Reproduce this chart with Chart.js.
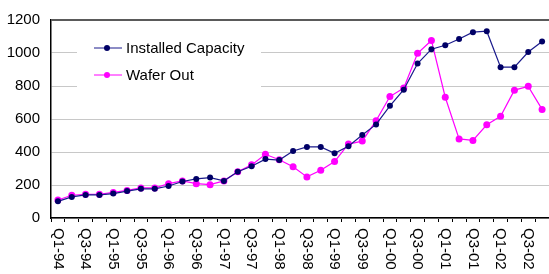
<!DOCTYPE html>
<html>
<head>
<meta charset="utf-8">
<script src="https://cdn.jsdelivr.net/npm/chart.js@4/dist/chart.umd.min.js"></script>
<style>
  html, body { margin: 0; padding: 0; background: #fff; overflow: hidden; }
  #wrap { position: relative; width: 553px; height: 274px; }
</style>
</head>
<body>
<div id="wrap"><canvas id="chart"></canvas></div>
<script>
// quarters, Q1-94 .. Q4-02
const quarters = [];
for (let y = 94; y <= 102; y++) {
    for (let q = 1; q <= 4; q++) quarters.push('Q' + q + '-' + String(y % 100).padStart(2, '0'));
}

const installedCapacity = [
    101, 128, 140, 140, 148, 163, 177, 177,
    194, 221, 237, 245, 225, 280, 314, 357,
    351, 406, 431, 431, 392, 435, 503, 567,
    680, 778, 936, 1023, 1047, 1085, 1126, 1132,
    914, 914, 1006, 1070
];
const waferOut = [
    109, 138, 144, 144, 155, 167, 182, 182,
    208, 225, 208, 202, 225, 280, 322, 386,
    353, 311, 249, 289, 342, 448, 466, 590,
    736, 788, 998, 1076, 732, 479, 470, 565,
    616, 775, 798, 658
];
const yTicks = [0, 200, 400, 600, 800, 1000, 1200];

// extra drawing: top border, rotated x labels, legend box inside the plot
const extras = {
    id: 'extras',
    beforeDatasetsDraw(chart) {
        const ctx = chart.ctx;
        const area = chart.chartArea;
        // legend background
        ctx.save();
        ctx.fillStyle = '#fff';
        ctx.fillRect(77, 30, 184, 60);
        const items = chart.data.datasets;
        items.forEach((ds, i) => {
            const y = 48 + i * 27;
            ctx.strokeStyle = ds.borderColor;
            ctx.lineWidth = 1;
            ctx.beginPath();
            ctx.moveTo(94, y);
            ctx.lineTo(122, y);
            ctx.stroke();
            ctx.fillStyle = ds.pointBackgroundColor;
            ctx.beginPath();
            ctx.arc(107, y, 3, 0, Math.PI * 2);
            ctx.fill();
            ctx.fillStyle = '#000';
            ctx.font = '15px "Liberation Sans", Arial, sans-serif';
            ctx.textBaseline = 'middle';
            ctx.textAlign = 'left';
            ctx.fillText(ds.label, 126, y + 1);
        });
        // top border
        ctx.strokeStyle = '#5a5a5a';
        ctx.lineWidth = 2;
        ctx.beginPath();
        ctx.moveTo(area.left, area.top);
        ctx.lineTo(area.right, area.top);
        ctx.stroke();
        ctx.restore();
    },
    afterDraw(chart) {
        const ctx = chart.ctx;
        const xs = chart.scales.x;
        ctx.save();
        ctx.fillStyle = '#000';
        ctx.font = '15px "Liberation Sans", Arial, sans-serif';
        ctx.textAlign = 'left';
        ctx.textBaseline = 'middle';
        quarters.forEach((q, i) => {
            if (i % 2 !== 0) return;
            const x = xs.getPixelForValue(i);
            ctx.save();
            ctx.translate(x, chart.chartArea.bottom + 10);
            ctx.rotate(Math.PI / 2);
            ctx.fillText(q, 0, 0);
            ctx.restore();
        });
        ctx.restore();
    }
};

new Chart(document.getElementById('chart'), {
    type: 'line',
    data: {
        labels: quarters,
        datasets: [
            {
                label: 'Installed Capacity',
                data: installedCapacity,
                borderColor: '#1a1a8c',
                backgroundColor: '#000066',
                pointBackgroundColor: '#000066',
                pointBorderColor: '#000066',
                borderWidth: 1.2,
                pointRadius: 3,
                pointBorderWidth: 0,
                tension: 0
            },
            {
                label: 'Wafer Out',
                data: waferOut,
                borderColor: '#ff00ff',
                backgroundColor: '#ff00ff',
                pointBackgroundColor: '#ff00ff',
                pointBorderColor: '#ff00ff',
                borderWidth: 1.2,
                pointRadius: 3.5,
                pointBorderWidth: 0,
                tension: 0
            }
        ]
    },
    options: {
        responsive: true,
        maintainAspectRatio: false,
        animation: false,
        layout: { padding: { top: 12, right: 1, left: 0, bottom: 0 } },
        plugins: { legend: { display: false }, tooltip: { enabled: false } },
        scales: {
            x: {
                offset: true,
                ticks: { display: false },
                grid: { display: true, drawOnChartArea: false, drawTicks: true, tickLength: 4, offset: true, color: '#000' },
                border: { color: '#000', width: 1.5 },
                afterFit(scale) { scale.height = 56; }
            },
            y: {
                min: 0,
                max: 1200,
                afterBuildTicks(scale) { scale.ticks = yTicks.map(v => ({ value: v })); },
                ticks: {
                    padding: 11,
                    color: '#000',
                    callback: v => String(v),
                    font: { family: '"Liberation Sans", Arial, sans-serif', size: 15 }
                },
                grid: { color: '#c8c8c8', drawTicks: false },
                border: { color: '#000', width: 1.5 },
                afterFit(scale) { scale.width = 51; }
            }
        }
    },
    plugins: [extras]
});
</script>
</body>
</html>
